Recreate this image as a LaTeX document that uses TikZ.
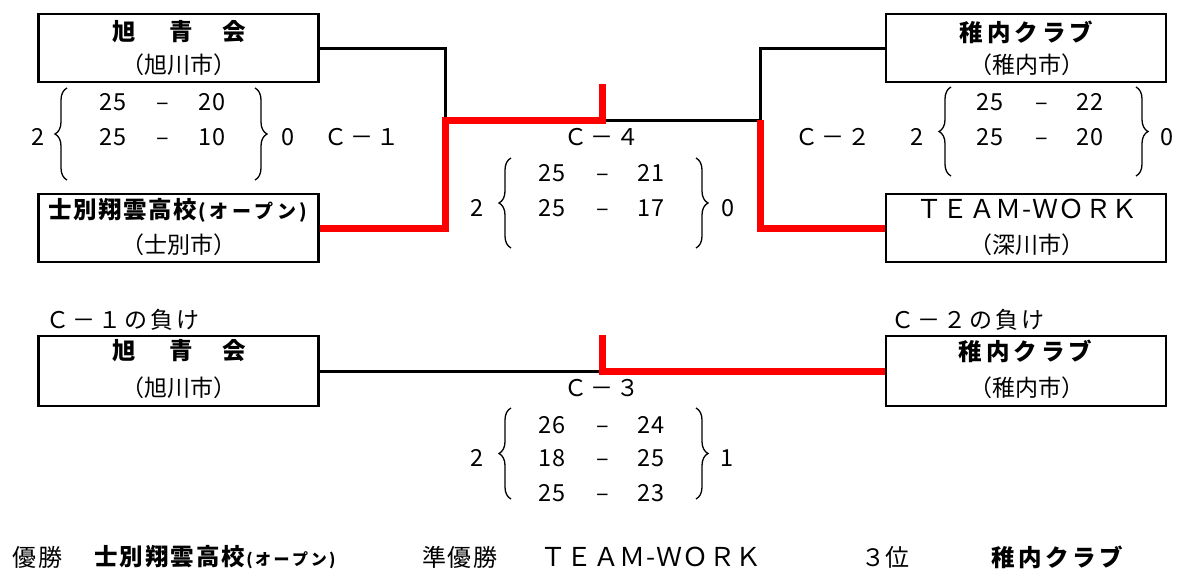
\documentclass[tikz,border=0pt]{standalone}
\usepackage{fontspec}
\usetikzlibrary{decorations.pathreplacing}
\newfontfamily\jp{Noto Sans CJK JP}
\makeatletter
\newcommand\sprd[2]{\def\sprdsep{\kern#1\relax}\sprdA#2\relax}
\def\sprdA#1{#1\futurelet\sprdnext\sprdB}
\def\sprdB{\ifx\sprdnext\relax\expandafter\@gobble\else\expandafter\sprdC\fi}
\def\sprdC{\sprdsep\sprdA}
\makeatother
\begin{document}
\begin{tikzpicture}[x=1pt,y=-1pt,
  box/.style={draw, line width=2.8pt, minimum width=280pt, minimum height=68pt, inner sep=0},
  tb/.style={inner sep=0, font=\jp\bfseries\fontsize{23.5}{23.5}\selectfont},
  tr/.style={inner sep=0, font=\jp\fontsize{23}{23}\selectfont},
  tw/.style={inner sep=0, font=\jp\fontsize{26}{26}\selectfont},
  lbl/.style={inner sep=0, font=\jp\fontsize{23}{23}\selectfont},
  res/.style={inner sep=0, font=\jp\fontsize{24}{24}\selectfont},
  num/.style={inner sep=0, font=\jp\fontsize{23.5}{23.5}\selectfont, text height=17pt, text depth=0pt},
  wire/.style={line width=3pt},
  win/.style={line width=7pt, red},
  brc/.style={decorate, decoration={brace, amplitude=12pt}, line width=1.3pt},
]
\useasboundingbox (0,0) rectangle (1199,576);

% boxes
\node[box] (b1) at (178.5,48) {};
\node[box] (b2) at (178.5,228) {};
\node[box] (b3) at (1026,48) {};
\node[box] (b4) at (1026,228) {};
\node[box, minimum height=70pt] (b5) at (178.5,371) {};
\node[box, minimum height=70pt] (b6) at (1026,371) {};

% box texts
\node[tb] (t1) at (179.2,32) {旭\kern33.5pt青\kern30pt会};
\node[tr] (c1) at (179,65) {（旭川市）};
\node[tb] (t2) at (178,210) {\sprd{1.5pt}{士別翔雲高校}\kern1.5pt{\fontsize{19}{19}\selectfont\sprd{3.5pt}{(オープン)}}};
\node[tr] (c2) at (179,245) {（士別市）};
\node[tb] (t3) at (1026.5,32) {\sprd{3.9pt}{稚内クラブ}};
\node[tr] (c3) at (1027,65) {（稚内市）};
\node[tw] (t4) at (1027,209) {\sprd{0.5pt}{ＴＥＡＭ-ＷＯＲＫ}};
\node[tr] (c4) at (1027,245) {（深川市）};
\node[tb] (t5) at (179.2,351) {旭\kern33.5pt青\kern30pt会};
\node[tr] (c5) at (179,388) {（旭川市）};
\node[tb] (t6) at (1025.5,351) {\sprd{3.9pt}{稚内クラブ}};
\node[tr] (c6) at (1027,388) {（稚内市）};

% labels
\node[lbl] (l1) at (123,320) {\sprd{3pt}{Ｃ－１の負け}};
\node[lbl] (l2) at (968,320) {\sprd{3pt}{Ｃ－２の負け}};
\node[lbl] (m1) at (362,137) {\sprd{3pt}{Ｃ－１}};
\node[lbl] (m2) at (833,137) {\sprd{3pt}{Ｃ－２}};
\node[lbl] (m4) at (602,137) {\sprd{3pt}{Ｃ－４}};
\node[lbl] (m3) at (602,388) {\sprd{3pt}{Ｃ－３}};

% connectors
\coordinate (k1) at (445,120);
\coordinate (k2) at (602,120);
\coordinate (k2t) at (602,84);
\coordinate (k3) at (760,120);
\coordinate (k4) at (602,371);
\coordinate (k4t) at (602,335);
\draw[wire] (b1.east) -| (k1);
\draw[wire] (k2) -- (k3) |- (b3.west);
\draw[wire] (b5.east) -- (k4);
\draw[win] (b2.east) -| (k1) -- (k2) -- (k2t);
\draw[win] (b4.west) -| (k3);
\draw[win] (b6.west) -- (k4) -- (k4t);

% scores C-1
\node[num] (s1w) at (38,137) {2};
\node[num] (s1a1) at (113,102) {25};
\node[num] (s1d1) at (163,102) {–};
\node[num] (s1b1) at (212,102) {20};
\node[num] (s1a2) at (113,137) {25};
\node[num] (s1d2) at (163,137) {–};
\node[num] (s1b2) at (212,137) {10};
\node[num] (s1l) at (288,137) {0};
\draw[brc] (67,180) -- (67,88);
\draw[brc] (255,88) -- (255,180);

% scores C-2
\node[num] (s2w) at (917,137) {2};
\node[num] (s2a1) at (990,102) {25};
\node[num] (s2d1) at (1042,102) {–};
\node[num] (s2b1) at (1090,102) {22};
\node[num] (s2a2) at (990,137) {25};
\node[num] (s2d2) at (1042,137) {–};
\node[num] (s2b2) at (1090,137) {20};
\node[num] (s2l) at (1167,137) {0};
\draw[brc] (951,176) -- (951,87);
\draw[brc] (1136,87) -- (1136,176);

% scores C-4
\node[num] (s4w) at (477,208) {2};
\node[num] (s4a1) at (552,173) {25};
\node[num] (s4d1) at (603,173) {–};
\node[num] (s4b1) at (651,173) {21};
\node[num] (s4a2) at (552,208) {25};
\node[num] (s4d2) at (603,208) {–};
\node[num] (s4b2) at (651,208) {17};
\node[num] (s4l) at (728,208) {0};
\draw[brc] (511,248) -- (511,158);
\draw[brc] (696,158) -- (696,248);

% scores C-3
\node[num] (s3w) at (477,458) {2};
\node[num] (s3a1) at (552,425) {26};
\node[num] (s3d1) at (603,425) {–};
\node[num] (s3b1) at (651,425) {24};
\node[num] (s3a2) at (552,458) {18};
\node[num] (s3d2) at (603,458) {–};
\node[num] (s3b2) at (651,458) {25};
\node[num] (s3a3) at (552,493) {25};
\node[num] (s3d3) at (603,493) {–};
\node[num] (s3b3) at (651,493) {23};
\node[num] (s3l) at (727,458) {1};
\draw[brc] (511,499) -- (511,408);
\draw[brc] (696,408) -- (696,499);

% results
\node[res] (r1) at (37.5,557) {\sprd{2pt}{優勝}};
\node[tb] (r2) at (215,557) {\sprd{2pt}{士別翔雲高校}\kern1pt{\fontsize{16}{16}\selectfont\sprd{2.5pt}{(オープン)}}};
\node[res] (r3) at (460,557) {\sprd{2pt}{準優勝}};
\node[tw] (r4) at (651,557) {\sprd{0.5pt}{ＴＥＡＭ-ＷＯＲＫ}};
\node[res] (r5) at (885.5,557) {３位};
\node[tb] (r6) at (1057.5,557) {\sprd{3.4pt}{稚内クラブ}};
\end{tikzpicture}
\end{document}
